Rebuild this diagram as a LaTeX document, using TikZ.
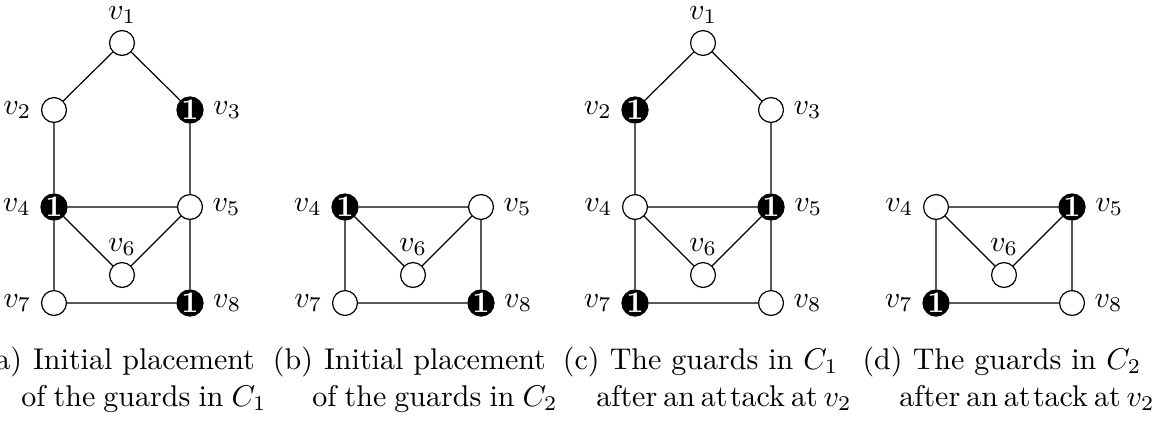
\documentclass[tikz,border=0pt]{standalone}
\begin{document}
\begin{tikzpicture}[x=0.3333pt,y=-0.3333pt,
  vtx/.style={circle,draw,line width=0.4pt,minimum size=8.3pt,inner sep=0pt,fill=white},
  guard/.style={vtx,fill=black,text=white,font=\bfseries},
  edge/.style={line width=0.4pt},
  every label/.style={inner sep=0pt},
  label distance=3pt,
  toplab/.style={label={[label distance=1.8pt]above:#1}},
  captext/.style={anchor=base,inner sep=0pt},
  caplab/.style={anchor=base east,inner sep=0pt}]
\useasboundingbox (0,0) rectangle (1166,423);
% ---------- (a)
\node[vtx,toplab=$v_1$] (a1) at (122,43) {};
\node[vtx,label=left:$v_2$] (a2) at (54,110) {};
\node[guard,label=right:$v_3$] (a3) at (190,110) {1};
\node[guard,label=left:$v_4$] (a4) at (54,207) {1};
\node[vtx,label=right:$v_5$] (a5) at (190,207) {};
\node[vtx,toplab=$v_6$] (a6) at (122,275) {};
\node[vtx,label=left:$v_7$] (a7) at (54,303) {};
\node[guard,label=right:$v_8$] (a8) at (190,303) {1};
\draw[edge] (a1)--(a2) (a1)--(a3) (a2)--(a4) (a3)--(a5) (a4)--(a5) (a4)--(a6) (a5)--(a6) (a4)--(a7) (a5)--(a8) (a7)--(a8);
% ---------- (b)
\node[guard,label=left:$v_4$] (b4) at (345,207) {1};
\node[vtx,label=right:$v_5$] (b5) at (481,207) {};
\node[vtx,toplab=$v_6$] (b6) at (413,275) {};
\node[vtx,label=left:$v_7$] (b7) at (345,303) {};
\node[guard,label=right:$v_8$] (b8) at (481,303) {1};
\draw[edge] (b4)--(b5) (b4)--(b6) (b5)--(b6) (b4)--(b7) (b5)--(b8) (b7)--(b8);
% ---------- (c)
\node[vtx,toplab=$v_1$] (c1) at (703,43) {};
\node[guard,label=left:$v_2$] (c2) at (635,110) {1};
\node[vtx,label=right:$v_3$] (c3) at (771,110) {};
\node[vtx,label=left:$v_4$] (c4) at (635,207) {};
\node[guard,label=right:$v_5$] (c5) at (771,207) {1};
\node[vtx,toplab=$v_6$] (c6) at (703,275) {};
\node[guard,label=left:$v_7$] (c7) at (635,303) {1};
\node[vtx,label=right:$v_8$] (c8) at (771,303) {};
\draw[edge] (c1)--(c2) (c1)--(c3) (c2)--(c4) (c3)--(c5) (c4)--(c5) (c4)--(c6) (c5)--(c6) (c4)--(c7) (c5)--(c8) (c7)--(c8);
% ---------- (d)
\node[vtx,label=left:$v_4$] (d4) at (936,207) {};
\node[guard,label=right:$v_5$] (d5) at (1072,207) {1};
\node[vtx,toplab=$v_6$] (d6) at (1004,275) {};
\node[guard,label=left:$v_7$] (d7) at (936,303) {1};
\node[vtx,label=right:$v_8$] (d8) at (1072,303) {};
\draw[edge] (d4)--(d5) (d4)--(d6) (d5)--(d6) (d4)--(d7) (d5)--(d8) (d7)--(d8);
% ---------- captions
\node[captext] (ta1) at (144,369) {Initial placement};
\node[caplab] (ta0) at ([xshift=-3.33pt]ta1.base west) {(a)};
\node[captext] (ta2) at (144,406) {\spaceskip=2.7pt of the guards in $C_1$};
\node[captext] (tb1) at (435,369) {Initial placement};
\node[caplab] (tb0) at ([xshift=-3.33pt]tb1.base west) {(b)};
\node[captext] (tb2) at (435,406) {\spaceskip=2.7pt of the guards in $C_2$};
\node[captext] (tc1) at (724,369) {The guards in $C_1$};
\node[caplab] (tc0) at ([xshift=-3pt]tc1.base west) {(c)};
\node[captext] (tc2) at (724,406) {\spaceskip=2pt after an at\kern0.8pt tack at $v_2$};
\node[captext] (td1) at (1027,369) {The guards in $C_2$};
\node[caplab] (td0) at ([xshift=-3pt]td1.base west) {(d)};
\node[captext] (td2) at (1027,406) {\spaceskip=2pt after an at\kern0.8pt tack at $v_2$};
\end{tikzpicture}
\end{document}
